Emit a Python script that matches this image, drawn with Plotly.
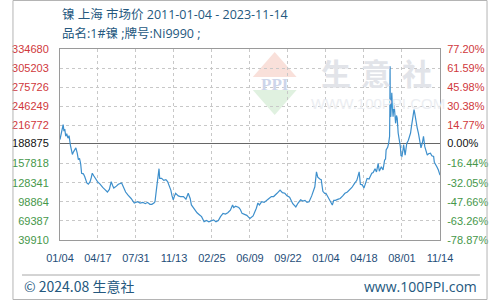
import plotly.graph_objects as go

# ---- data ----
dates = [
"2011-01-04","2011-01-18","2011-02-01","2011-02-12","2011-02-22","2011-03-04","2011-03-16","2011-03-28",
"2011-04-12","2011-04-26","2011-05-13","2011-05-25","2011-06-06","2011-06-20","2011-07-04","2011-07-19",
"2011-08-05","2011-08-19","2011-09-02","2011-09-16","2011-09-28","2011-10-20","2011-11-05","2011-11-20",
"2011-12-02","2011-12-20","2012-01-11","2012-01-25","2012-02-07","2012-02-25","2012-03-15","2012-03-29",
"2012-04-17","2012-05-08","2012-05-25","2012-06-15","2012-07-10","2012-08-12","2012-09-05","2012-09-28",
"2012-10-15","2012-10-30","2012-12-01","2012-12-25","2013-02-04","2013-03-01","2013-03-25","2013-04-24",
"2013-06-01","2013-07-10","2013-08-20","2013-09-20","2013-10-25","2013-11-25","2013-12-20","2014-01-20",
"2014-02-12","2014-03-10","2014-03-23","2014-04-10","2014-04-23","2014-05-12","2014-05-20","2014-06-13",
"2014-07-10","2014-08-05","2014-08-26","2014-09-20","2014-10-05","2014-10-20","2014-11-04","2014-11-20",
"2014-12-03","2015-01-05","2015-01-31","2015-03-10","2015-04-10","2015-05-08","2015-06-01","2015-06-16",
"2015-07-26","2015-08-25","2015-09-22","2015-10-20","2015-11-20","2015-12-20","2016-01-18","2016-02-15",
"2016-03-16","2016-04-15","2016-05-14","2016-06-10","2016-07-11","2016-08-10","2016-09-08","2016-10-10",
"2016-11-06","2016-11-20","2016-12-14","2017-01-22","2017-02-10","2017-03-03","2017-04-01","2017-05-01",
"2017-06-09","2017-07-18","2017-08-27","2017-09-15","2017-10-04","2017-11-01","2017-12-02","2018-01-10",
"2018-01-30","2018-03-01","2018-03-29","2018-05-10","2018-06-16","2018-07-15","2018-08-14","2018-09-10",
"2018-10-12","2018-11-20","2018-12-28","2019-01-25","2019-02-25","2019-03-25","2019-04-20","2019-05-15",
"2019-06-10","2019-07-12","2019-08-05","2019-08-20","2019-09-09","2019-09-25","2019-10-20","2019-11-07",
"2019-11-27","2019-12-20","2020-01-04","2020-01-25","2020-02-12","2020-03-23","2020-04-10","2020-04-30",
"2020-06-05","2020-06-28","2020-07-30","2020-08-26","2020-09-25","2020-10-23","2020-11-20","2020-12-21",
"2021-01-20","2021-02-18","2021-03-05","2021-03-29","2021-04-18","2021-05-27","2021-06-20","2021-07-24",
"2021-08-10","2021-09-02","2021-09-20","2021-10-11","2021-10-25","2021-11-19","2021-12-10","2021-12-29",
"2022-01-10","2022-01-17","2022-02-05","2022-02-17","2022-03-01","2022-03-04","2022-03-07","2022-03-10",
"2022-03-16","2022-03-22","2022-03-28","2022-04-05","2022-04-13","2022-04-25","2022-05-06","2022-05-14",
"2022-05-25","2022-06-03","2022-06-15","2022-06-23","2022-07-12","2022-07-20","2022-08-01","2022-08-15",
"2022-08-21","2022-09-09","2022-09-20","2022-09-29","2022-10-19","2022-11-01","2022-11-15","2022-11-25",
"2022-12-05","2022-12-20","2022-12-28","2023-01-05","2023-01-12","2023-01-25","2023-02-05","2023-02-20",
"2023-03-04","2023-03-15","2023-03-24","2023-04-10","2023-04-24","2023-05-10","2023-05-25","2023-06-10",
"2023-06-25","2023-07-19","2023-08-05","2023-08-27","2023-09-05","2023-09-16","2023-10-06","2023-10-25",
"2023-11-14"]

prices = [
195000,203000,212000,218000,208000,211000,200000,204000,
197000,201000,186000,180000,172000,176000,179000,182000,
174000,164000,166000,158000,143000,142000,138000,133000,
128000,126000,130000,136000,143000,139000,135000,132000,
129000,127000,124000,121000,118000,114000,118000,130000,
124000,120000,123000,126000,128000,121000,114000,109000,
104000,97000,99000,97000,98000,96000,98000,95000,
95000,97000,99000,118000,133000,150000,135000,135000,
132000,133000,130000,122000,117000,108000,102000,108000,
112000,108000,107000,107000,103000,112000,104000,94000,
86000,82000,79000,76000,68000,70000,68000,70000,
71000,68000,70000,76000,81000,80000,82000,86000,
94000,90000,92000,90000,87000,81000,80000,78000,
73000,77000,89000,97000,94000,99000,98000,103000,
104000,107000,107000,112000,117000,113000,112000,108000,
106000,96000,91000,97000,102000,100000,101000,98000,
99000,108000,116000,122000,145000,137000,134000,133000,
115000,112000,112000,107000,105000,94000,101000,101000,
103000,104000,108000,112000,114000,117000,121000,127000,
132000,145000,126000,125000,120000,135000,134000,143000,
144000,150000,145000,158000,146000,153000,148000,163000,
165000,179000,183000,189000,200000,240000,308000,235000,
230000,248000,267000,245000,230000,251000,228000,220000,
232000,228000,205000,200000,184000,170000,169000,180000,
187000,171000,183000,189000,194000,198000,205000,214000,
225000,236000,241000,236000,230000,223000,213000,205000,
195000,188000,182000,190000,200000,184000,175000,171000,
173000,174000,170000,169000,160000,158000,153000,148000,
140000]

base_price = 188875
x_tick_dates = ["2011-01-04","2012-04-17","2013-07-31","2014-11-13","2016-02-25","2017-06-09",
                "2018-09-22","2020-01-04","2021-04-18","2022-08-01","2023-11-14"]
x_tick_labels = ["01/04","04/17","07/31","11/13","02/25","06/09","09/22","01/04","04/18","08/01","11/14"]
price_ticks = [39910, 69387, 98864, 128341, 157818, 188875, 216772, 246249, 275726, 305203, 334680]
pct_ticks = [-78.87, -63.26, -47.66, -32.05, -16.44, 0.00, 14.77, 30.38, 45.98, 61.59, 77.20]
title_line1 = "镍 上海 市场价 2011-01-04 - 2023-11-14"
title_line2 = "品名:1#镍 ;牌号:Ni9990 ;"

RED = "#d0383c"
GREEN = "#46974a"
BLACK = "#111111"

def colour(v, base):
    if abs(v - base) < 1e-9:
        return BLACK
    return RED if v > base else GREEN

left_text = [f'<span style="color:{colour(v, base_price)}">{v}</span>' for v in price_ticks]
right_text = [f'<span style="color:{colour(v, 0.0)}">{v:.2f}%</span>' for v in pct_ticks]
pct_values = [(p / base_price - 1) * 100 for p in prices]

fig = go.Figure()
fig.add_trace(go.Scatter(x=dates, y=prices, mode="lines",
                         line=dict(color="#3d8fcc", width=1.2), hoverinfo="skip", showlegend=False))
fig.add_trace(go.Scatter(x=dates, y=pct_values, mode="lines", yaxis="y2",
                         line=dict(color="rgba(0,0,0,0)", width=0), hoverinfo="skip", showlegend=False))

W, H = 500, 300
L, R, T, B = 50, 50, 49, 60
PW, PH = W - L - R, H - T - B
def px(x): return (x - L) / PW
def py(y): return (H - B - y) / PH

fig.update_layout(
    width=W, height=H, margin=dict(l=L, r=R, t=T, b=B),
    paper_bgcolor="white", plot_bgcolor="white",
    xaxis=dict(type="date", range=[x_tick_dates[0], x_tick_dates[-1]],
               tickmode="array", tickvals=x_tick_dates, ticktext=x_tick_labels,
               showgrid=True, gridcolor="#c8c8c8", griddash="dot", gridwidth=1,
               showline=True, linecolor="#9a9a9a", linewidth=1, mirror=True,
               ticks="outside", ticklen=8, tickcolor="rgba(0,0,0,0)",
               tickfont=dict(family="Liberation Sans, Arial, sans-serif", size=11, color="#1f4e79"),
               zeroline=False),
    yaxis=dict(range=[price_ticks[0], price_ticks[-1]], tickmode="array",
               tickvals=price_ticks, ticktext=left_text,
               showgrid=True, gridcolor="#c8c8c8", griddash="dot", gridwidth=1,
               showline=True, linecolor="#9a9a9a", linewidth=1, mirror=True,
               ticks="outside", ticklen=8, tickcolor="rgba(0,0,0,0)",
               tickfont=dict(family="Liberation Sans, Arial, sans-serif", size=11),
               zeroline=False),
    yaxis2=dict(overlaying="y", side="right", range=[pct_ticks[0], pct_ticks[-1]],
                tickmode="array", tickvals=pct_ticks, ticktext=right_text,
                showgrid=False, zeroline=True, zerolinecolor="#666666", zerolinewidth=1,
                ticks="outside", ticklen=4, tickcolor="rgba(0,0,0,0)",
                tickfont=dict(family="Liberation Sans, Arial, sans-serif", size=11),
                showline=False),
)

TITLE_C = "#24587e"
cjk = "Noto Sans CJK SC, sans-serif"
title_font = "Open Sans, Noto Sans CJK SC, sans-serif"
ann = [
    dict(text=title_line1, x=px(50), y=py(14.5), xanchor="left", yanchor="middle",
         font=dict(family=title_font, size=12.5, color=TITLE_C)),
    dict(text=title_line2, x=px(50), y=py(33.5), xanchor="left", yanchor="middle",
         font=dict(family=title_font, size=12.5, color=TITLE_C)),
    dict(text="© 2024.08 生意社", x=px(10), y=py(286), xanchor="left", yanchor="middle",
         font=dict(family=cjk, size=14, color=TITLE_C)),
    dict(text="www.100PPI.com", x=px(491), y=py(286), xanchor="right", yanchor="middle",
         font=dict(family="Open Sans, sans-serif", size=14, color=TITLE_C)),
    dict(text="WWW.100PPI.COM", x=px(385), y=py(103), xanchor="center", yanchor="middle",
         font=dict(family="Liberation Sans, sans-serif", size=15, color="#eceef2")),
    dict(text="<b>PPI</b>", x=px(276), y=py(84), xanchor="center", yanchor="middle",
         font=dict(family="Liberation Serif, serif", size=17, color="#cdd5ea")),
]
for ch, cx in zip(["生", "意", "社"], [341, 383, 426]):
    ann.append(dict(text=f"<b>{ch}</b>", x=px(cx), y=py(72), xanchor="center", yanchor="middle",
                    font=dict(family=cjk, size=30, color="#e2e4e9")))
for a in ann:
    a.update(xref="paper", yref="paper", showarrow=False)
fig.update_layout(annotations=ann)

def path(points):
    return "M " + " L ".join(f"{px(x)},{py(y)}" for x, y in points) + " Z"

shapes = [
    dict(type="path", path=path([(276, 52), (299, 77), (253, 77)]), fillcolor="#f9e0da",
         line=dict(width=0), layer="below"),
    dict(type="path", path=path([(253, 90), (299, 90), (276, 115)]), fillcolor="#e0f1e0",
         line=dict(width=0), layer="below"),
    dict(type="line", x0=px(10), x1=px(492), y0=py(275), y1=py(275), line=dict(color="#a8a8a8", width=1)),
    dict(type="rect", x0=px(0.5), x1=px(499.5), y0=py(299.5), y1=py(0.5), line=dict(color="#b4b4b4", width=1)),
]
for s in shapes:
    s.update(xref="paper", yref="paper")
fig.update_layout(shapes=shapes)

fig.write_html("out.html")
